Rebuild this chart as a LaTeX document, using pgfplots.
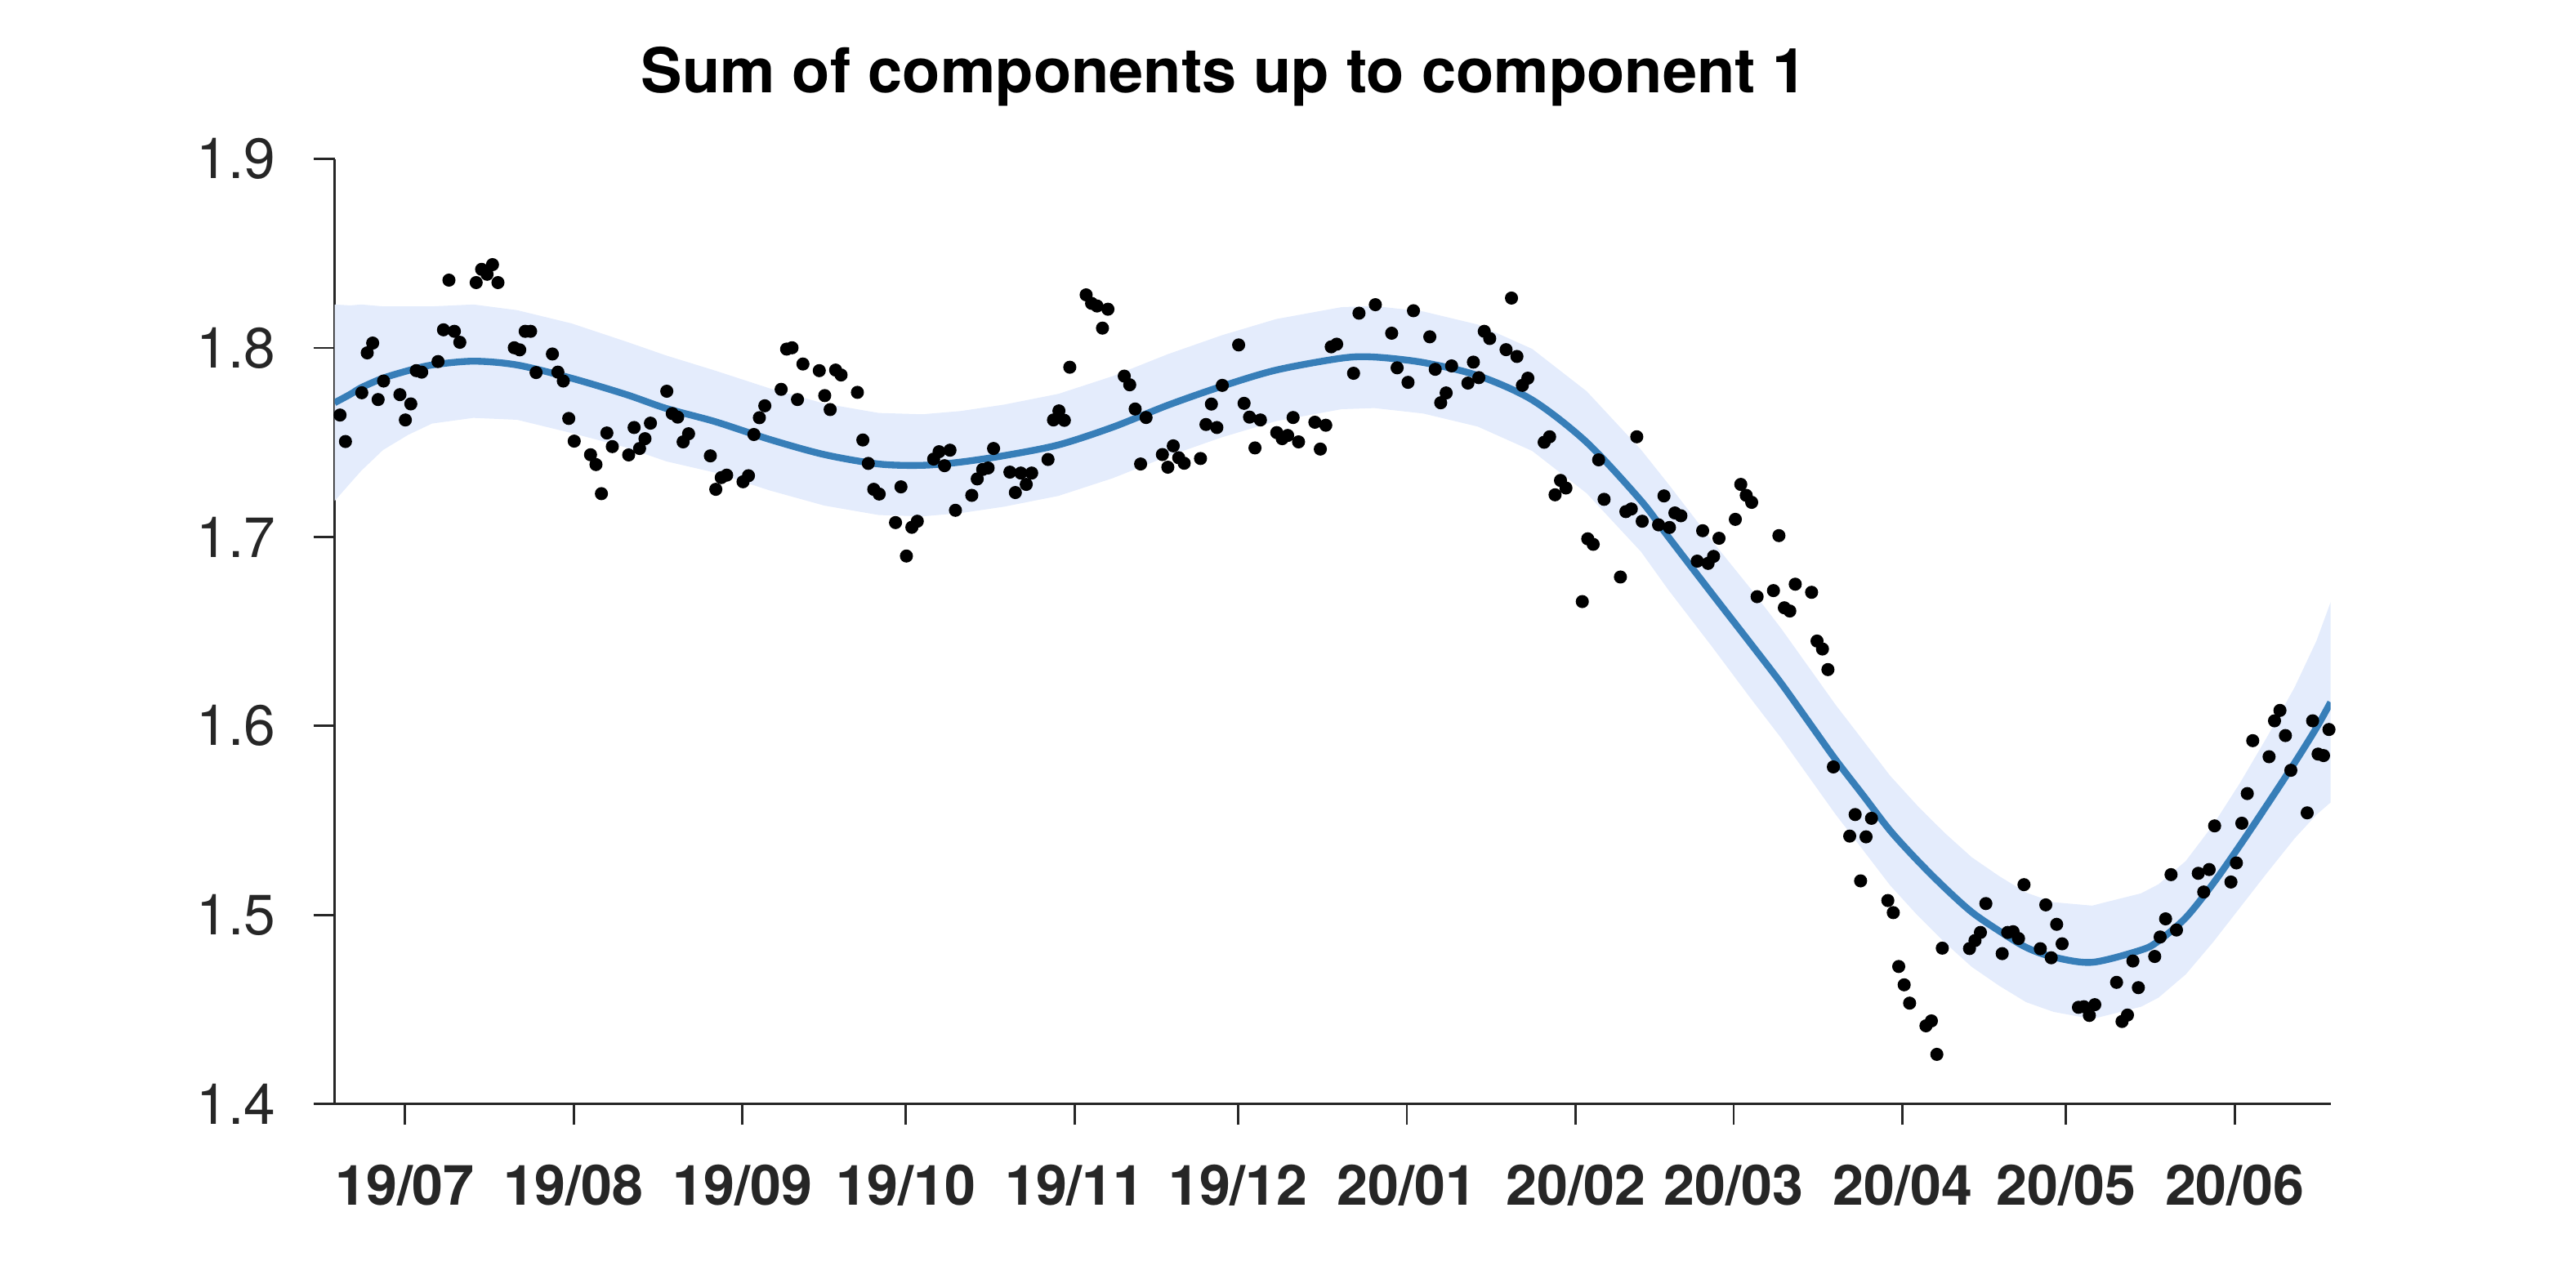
\documentclass[border=0pt]{standalone}
\usepackage{fontspec}
\setmainfont{TeX Gyre Heros}
\usepackage{pgfplots}
\usepackage{pgfplotstable}
\pgfplotsset{compat=1.18}
\usepgfplotslibrary{fillbetween}

\definecolor{axgray}{HTML}{262626}
\definecolor{fitblue}{HTML}{377EB8}
\definecolor{bandblue}{HTML}{E4ECFC}

% days since 2019-07-01, fitted mean, upper and lower band
\pgfplotstableread{
d      c       u       l
-12.9  1.7710  1.8230  1.7190
-10    1.7755  1.8225  1.7285
-8     1.7790  1.8230  1.7350
-4     1.7840  1.8220  1.7460
0.6    1.7880  1.8220  1.7540
5      1.7910  1.8220  1.7600
12.6   1.7930  1.8230  1.7630
20.6   1.7910  1.8200  1.7620
30.6   1.7840  1.8130  1.7550
40.6   1.7754  1.8034  1.7474
48     1.7680  1.7960  1.7400
57     1.7610  1.7880  1.7340
67     1.7516  1.7786  1.7246
77     1.7436  1.7706  1.7166
87     1.7386  1.7656  1.7116
95     1.7379  1.7649  1.7109
102    1.7396  1.7666  1.7126
110    1.7430  1.7700  1.7160
120    1.7487  1.7757  1.7217
130    1.7581  1.7851  1.7311
140    1.7696  1.7966  1.7426
150    1.7797  1.8067  1.7527
160    1.7883  1.8153  1.7613
172    1.7946  1.8216  1.7676
178    1.7952  1.8222  1.7682
187    1.7923  1.8193  1.7653
197    1.7854  1.8124  1.7584
207    1.7725  1.7995  1.7455
217    1.7501  1.7771  1.7231
227    1.7191  1.7461  1.6921
232    1.7000  1.7280  1.6720
240    1.6700  1.6980  1.6420
247    1.6440  1.6730  1.6150
252.7  1.6226  1.6516  1.5936
257.7  1.6024  1.6314  1.5734
262.7  1.5822  1.6112  1.5532
267.7  1.5635  1.5925  1.5345
272.7  1.5447  1.5737  1.5157
277.7  1.5289  1.5579  1.4999
282.7  1.5145  1.5435  1.4855
287.7  1.5015  1.5305  1.4725
292.8  1.4914  1.5204  1.4624
297.7  1.4828  1.5118  1.4538
302.7  1.4777  1.5067  1.4487
309.8  1.4749  1.5049  1.4449
318.8  1.4814  1.5114  1.4514
322    1.4862  1.5162  1.4562
327    1.4985  1.5285  1.4685
332    1.5165  1.5475  1.4855
337    1.5370  1.5700  1.5040
342    1.5585  1.5945  1.5225
347    1.5805  1.6205  1.5405
351    1.5990  1.6450  1.5530
353.6  1.6125  1.6655  1.5595
}\fitdata

% observations
\pgfplotstableread{
d      v
-13.1  1.7674
-11.9  1.7645
-10.9  1.7505
-7.9   1.7763
-6.9   1.7974
-5.9   1.8026
-4.9   1.7727
-3.9   1.7825
-0.9   1.7753
0.1    1.7619
1.1    1.7704
2.1    1.7880
3.1    1.7872
6.1    1.7928
7.1    1.8096
8.1    1.8359
9.1    1.8088
10.1   1.8030
13.1   1.8346
14.1   1.8416
15.1   1.8390
16.1   1.8441
17.1   1.8346
20.1   1.8001
21.1   1.7990
22.1   1.8088
23.1   1.8088
24.1   1.7870
27.1   1.7968
28.1   1.7872
29.1   1.7825
30.1   1.7627
31.1   1.7507
34.1   1.7435
35.1   1.7383
36.1   1.7229
37.1   1.7550
38.1   1.7478
41.1   1.7434
42.1   1.7579
43.1   1.7468
44.1   1.7520
45.1   1.7602
48.1   1.7771
49.1   1.7653
50.1   1.7634
51.1   1.7503
52.1   1.7546
56.1   1.7429
57.1   1.7252
58.1   1.7314
59.1   1.7327
62.1   1.7292
63.1   1.7324
64.1   1.7542
65.1   1.7631
66.1   1.7694
69.1   1.7781
70.1   1.7994
71.1   1.8001
72.1   1.7727
73.1   1.7915
76.1   1.7880
77.1   1.7748
78.1   1.7674
79.1   1.7883
80.1   1.7857
83.1   1.7765
84.1   1.7513
85.1   1.7389
86.1   1.7252
87.1   1.7227
90.1   1.7076
91.1   1.7265
92.1   1.6899
93.1   1.7051
94.1   1.7083
97.1   1.7412
98.1   1.7451
99.1   1.7377
100.1  1.7459
101.1  1.7141
104.1  1.7220
105.1  1.7307
106.1  1.7357
107.1  1.7365
108.1  1.7468
111.1  1.7343
112.1  1.7235
113.1  1.7338
114.1  1.7278
115.1  1.7338
118.1  1.7410
119.1  1.7619
120.1  1.7667
121.1  1.7617
122.1  1.7898
125.1  1.8281
126.1  1.8236
127.1  1.8222
128.1  1.8105
129.1  1.8205
132.1  1.7851
133.1  1.7805
134.1  1.7677
135.1  1.7386
136.1  1.7632
139.1  1.7436
140.1  1.7369
141.1  1.7482
142.1  1.7419
143.1  1.7390
146.1  1.7415
147.1  1.7595
148.1  1.7703
149.1  1.7579
150.1  1.7802
153.1  1.8016
154.1  1.7707
155.1  1.7634
156.1  1.7471
157.1  1.7619
160.1  1.7552
161.1  1.7520
162.1  1.7537
163.1  1.7632
164.1  1.7503
167.1  1.7607
168.1  1.7465
169.1  1.7591
170.1  1.8006
171.1  1.8020
174.2  1.7866
175.2  1.8184
178.2  1.8229
181.2  1.8078
182.2  1.7895
184.2  1.7818
185.2  1.8197
188.2  1.8059
189.2  1.7887
190.2  1.7710
191.2  1.7762
192.2  1.7905
195.2  1.7814
196.2  1.7925
197.2  1.7843
198.2  1.8088
199.2  1.8050
202.2  1.7991
203.2  1.8264
204.2  1.7955
205.2  1.7802
206.2  1.7840
209.2  1.7501
210.2  1.7530
211.2  1.7223
212.2  1.7299
213.2  1.7259
216.2  1.6658
217.2  1.6990
218.2  1.6961
219.2  1.7408
220.2  1.7199
223.2  1.6788
224.2  1.7134
225.2  1.7148
226.2  1.7530
227.2  1.7083
230.2  1.7064
231.2  1.7217
232.2  1.7050
233.2  1.7127
234.3  1.7112
237.3  1.6872
238.3  1.7033
239.3  1.6860
240.3  1.6897
241.3  1.6993
244.3  1.7093
245.3  1.7278
246.3  1.7220
247.3  1.7183
248.3  1.6684
251.3  1.6716
252.3  1.7007
253.3  1.6625
254.3  1.6608
255.3  1.6750
258.3  1.6707
259.3  1.6449
260.3  1.6407
261.3  1.6298
262.3  1.5783
265.3  1.5417
266.3  1.5531
267.3  1.5180
268.3  1.5413
269.3  1.5511
272.3  1.5076
273.3  1.5012
274.3  1.4727
275.3  1.4630
276.3  1.4533
279.3  1.4413
280.3  1.4439
281.3  1.4262
282.3  1.4824
287.3  1.4822
288.3  1.4864
289.3  1.4907
290.3  1.5060
293.3  1.4795
294.3  1.4907
295.3  1.4911
296.3  1.4875
297.3  1.5160
300.3  1.4821
301.3  1.5053
302.3  1.4773
303.3  1.4950
304.3  1.4847
307.3  1.4511
308.3  1.4514
309.3  1.4468
310.3  1.4525
314.3  1.4643
315.3  1.4436
316.3  1.4470
317.3  1.4756
318.3  1.4615
321.3  1.4780
322.3  1.4883
323.3  1.4979
324.3  1.5213
325.3  1.4920
329.3  1.5220
330.3  1.5121
331.3  1.5240
332.3  1.5471
335.3  1.5174
336.3  1.5275
337.3  1.5485
338.3  1.5642
339.3  1.5922
342.3  1.5837
343.3  1.6027
344.3  1.6082
345.3  1.5949
346.3  1.5765
349.3  1.5540
350.3  1.6027
351.3  1.5851
352.3  1.5843
353.3  1.5981
}\ptsdata

\begin{document}
\begin{tikzpicture}
\begin{axis}[
    at={(0,0)}, anchor=south west,
    scale only axis,
    width=351.4pt, height=166.4pt,
    xmin=-12.9, xmax=353.6,
    ymin=1.4, ymax=1.9,
    axis lines*=left,
    axis line style={draw=axgray, line width=0.4pt},
    tick align=outside,
    major tick length=3.7pt,
    tick style={draw=axgray, line width=0.4pt},
    xtick={0,31,62,92,123,153,184,215,244,275,305,336},
    xticklabels={19/07,19/08,19/09,19/10,19/11,19/12,20/01,20/02,20/03,20/04,20/05,20/06},
    ytick={1.4,1.5,1.6,1.7,1.8,1.9},
    /pgf/number format/assume math mode=true,
    yticklabel style={/pgf/number format/.cd, fixed, fixed zerofill, precision=1,
        assume math mode=true, /tikz/.cd,
        font=\fontsize{10}{11}\selectfont, text=axgray, inner sep=0pt},
    xticklabel style={font=\fontsize{9.8}{11}\selectfont\bfseries, text=axgray, inner sep=0pt},
    yticklabel shift=6.5pt,
    xticklabel shift=6.8pt,
    title={Sum of components up to component 1},
    title style={at={(0.4457,1)}, anchor=base, yshift=5.7pt, inner sep=0pt,
        font=\fontsize{10.9}{13}\selectfont\bfseries},
    clip mode=individual,
]
\addplot[draw=none, name path=up] table[x=d, y=u] {\fitdata};
\addplot[draw=none, name path=lo] table[x=d, y=l] {\fitdata};
\addplot[fill=bandblue, draw=none] fill between[of=up and lo];
\addplot[fitblue, line width=1.2pt, smooth] table[x=d, y=c] {\fitdata};
\addplot[only marks, mark=*, mark size=0.95pt, black] table[x=d, y=v] {\ptsdata};
\end{axis}
\path[use as bounding box] (-58.9pt,-32.4pt) rectangle (394.6pt,194.4pt);
\end{tikzpicture}
\end{document}
